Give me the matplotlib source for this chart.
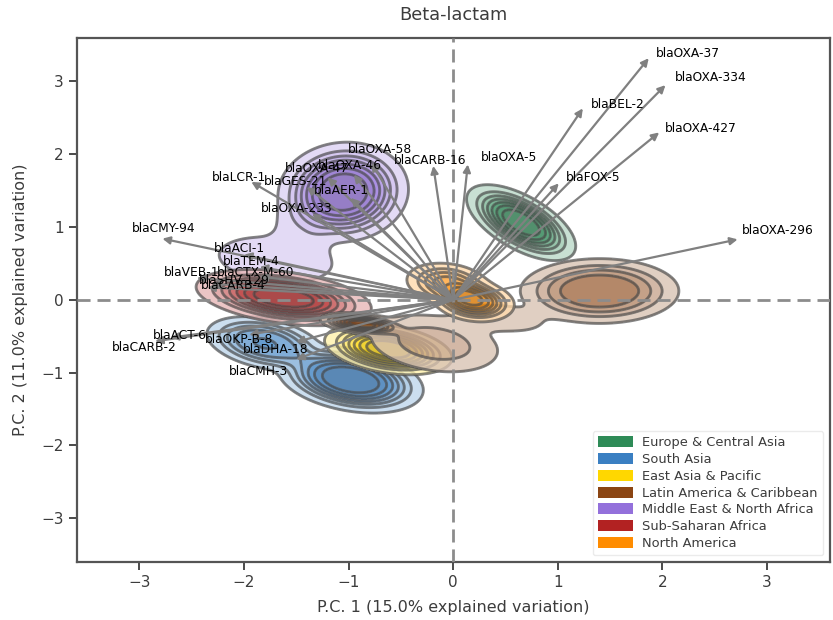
"""
Beta-lactam PCA biplot: region density contours + gene loading arrows.
"""

import numpy as np
import matplotlib
matplotlib.use("Agg")
import matplotlib.pyplot as plt
from matplotlib.colors import LinearSegmentedColormap, to_rgb
from matplotlib.patches import Patch


# ---------------------------------------------------------------------------
# Data
# ---------------------------------------------------------------------------

regions = ["Europe & Central Asia", "South Asia", "East Asia & Pacific",
           "Latin America & Caribbean", "Middle East & North Africa",
           "Sub-Saharan Africa", "North America"]
region_colors = ["#2e8b57", "#3a7fc2", "#ffd700", "#8b4513",
                 "#9370db", "#b22222", "#ff8c00"]
draw_order = [4, 1, 5, 2, 3, 0, 6]

# density bumps
comp_region = [0,
               1, 1,
               2,
               3, 3, 3, 3,
               4, 4, 4,
               5,
               6, 6]
comp_x      = [0.65,
               -0.98, -1.80,
               -0.62,
               -0.88, 1.40, -0.18, 0.45,
               -1.05, -1.70, -1.45,
               -1.62,
               0.20, -0.05]
comp_y      = [1.06,
               -1.10, -0.60,
               -0.68,
               -0.33, 0.12, -0.60, -0.25,
               1.48, 0.55, 0.95,
               0.03,
               -0.02, 0.22]
comp_sx     = [0.35,
               0.41, 0.35,
               0.33,
               0.20, 0.46, 0.42, 0.35,
               0.34, 0.45, 0.20,
               0.45,
               0.20, 0.22]
comp_sy     = [0.17,
               0.24, 0.20,
               0.17,
               0.07, 0.27, 0.25, 0.15,
               0.38, 0.25, 0.30,
               0.185,
               0.14, 0.15]
comp_angle  = [-45,
               -18, -20,
               -15,
               -10, 0, -15, -10,
               -15, -10, 0,
               -12,
               -15, -15]
comp_peak   = [1.0,
               1.0, 0.6,
               1.0,
               1.0, 0.6, 0.25, 0.10,
               1.0, 0.12, 0.10,
               1.0,
               1.0, 0.6]
comp_shape  = [1.4,
               1.6, 1.6,
               1.4,
               1.3, 1.6, 1.5, 1.5,
               1.5, 1.5, 1.5,
               1.4,
               1.3, 1.3]

genes = ["blaOXA-37", "blaOXA-334", "blaBEL-2", "blaOXA-427", "blaOXA-5",
         "blaCARB-16", "blaFOX-5", "blaOXA-296", "blaOXA-58", "blaOXA-46",
         "blaOXA-47", "blaGES-21", "blaLCR-1", "blaAER-1", "blaOXA-233",
         "blaCMY-94", "blaACI-1", "blaTEM-4", "blaVEB-1", "blaCTX-M-60",
         "blaSHV-129", "blaCARB-4", "blaACT-6", "blaCARB-2", "blaOKP-B-8",
         "blaDHA-18", "blaCMH-3"]
load_pc1 = [1.87, 2.03, 1.24, 1.97, 0.14, -0.19, 1.01, 2.72, -0.78, -0.95,
            -1.20, -1.40, -1.93, -0.98, -1.35, -2.78, -2.00, -1.85, -2.45, -1.85,
            -2.30, -2.35, -2.70, -2.85, -1.95, -1.50, -1.50]
load_pc2 = [3.32, 2.95, 2.63, 2.30, 1.86, 1.84, 1.60, 0.83, 1.88, 1.72,
            1.68, 1.55, 1.62, 1.40, 1.18, 0.84, 0.62, 0.45, 0.30, 0.32,
            0.22, 0.17, -0.52, -0.57, -0.48, -0.58, -0.82]
# label anchor (centre of text), after de-overlapping
label_x = [2.24, 2.46, 1.57, 2.37, 0.53, -0.22, 1.34, 3.10, -0.70, -0.99,
           -1.30, -1.51, -2.05, -1.07, -1.50, -2.77, -2.04, -1.93, -2.50, -1.89,
           -2.09, -2.10, -2.61, -2.95, -2.05, -1.70, -1.86]
label_y = [3.39, 3.05, 2.68, 2.36, 1.95, 1.91, 1.68, 0.95, 2.07, 1.84,
           1.80, 1.63, 1.68, 1.50, 1.26, 0.98, 0.71, 0.52, 0.37, 0.38,
           0.27, 0.19, -0.49, -0.65, -0.54, -0.69, -0.98]

TEXT = "#3c3c3c"


def region_cmap(color):
    c = np.array(to_rgb(color))
    w = np.ones(3)
    stops = [w * 0.75 + c * 0.25, w * 0.4 + c * 0.6, c, c * 0.8]
    return LinearSegmentedColormap.from_list("region", stops)


def region_density(k, X, Y):
    Z = np.zeros_like(X)
    for i, r in enumerate(comp_region):
        if r != k:
            continue
        a = np.deg2rad(comp_angle[i])
        dx, dy = X - comp_x[i], Y - comp_y[i]
        u = np.cos(a) * dx + np.sin(a) * dy
        v = -np.sin(a) * dx + np.cos(a) * dy
        q = (u / comp_sx[i]) ** 2 + (v / comp_sy[i]) ** 2
        Z += comp_peak[i] * np.exp(-0.5 * q ** comp_shape[i])
    return Z


fig = plt.figure(figsize=(8.33, 6.2), dpi=100)
ax = fig.add_axes([0.092, 0.094, 0.904, 0.845])

gx = np.linspace(-3.6, 3.6, 450)
gy = np.linspace(-3.6, 3.6, 450)
X, Y = np.meshgrid(gx, gy)
fracs = np.linspace(0.05, 1, 8)

for n, k in enumerate(draw_order):
    Z = region_density(k, X, Y)
    lv = Z.max() * fracs
    lv[-1] = Z.max() * 1.001
    ax.contourf(X, Y, Z, levels=lv, cmap=region_cmap(region_colors[k]),
                alpha=0.8, zorder=1 + n * 0.1)
    ax.contour(X, Y, Z, levels=lv[:-1], colors="#505050", linewidths=2.1,
               alpha=0.7, zorder=1.05 + n * 0.1)

ax.axhline(0, color="#8c8c8c", lw=2, dashes=(4.7, 2.5), zorder=3)
ax.axvline(0, color="#8c8c8c", lw=2, dashes=(4.7, 2.5), zorder=3)

for g, px, py, lx, ly in zip(genes, load_pc1, load_pc2, label_x, label_y):
    ax.annotate("", xy=(px, py), xytext=(0, 0),
                arrowprops=dict(arrowstyle="-|>", color="#808080", lw=1.6,
                                mutation_scale=11, shrinkA=0, shrinkB=0),
                zorder=4)
    ax.text(lx, ly, g, fontsize=8.8, color="black", ha="center", va="center", zorder=5)

ax.set_xlim(-3.6, 3.6)
ax.set_ylim(-3.6, 3.6)
ax.set_xticks([-3, -2, -1, 0, 1, 2, 3])
ax.set_yticks([-3, -2, -1, 0, 1, 2, 3])
ax.tick_params(labelsize=11, colors=TEXT, length=6, width=1.3)
for sp in ax.spines.values():
    sp.set_color("#555555")
    sp.set_linewidth(1.6)

ax.set_title("Beta-lactam", fontsize=12.8, color=TEXT, pad=13)
ax.set_xlabel("P.C. 1 (15.0% explained variation)", fontsize=11.5, color=TEXT, labelpad=7)
ax.set_ylabel("P.C. 2 (11.0% explained variation)", fontsize=11.5, color=TEXT, labelpad=9)

handles = [Patch(facecolor=c, edgecolor="none", label=r) for r, c in zip(regions, region_colors)]
leg = ax.legend(handles=handles, loc="lower right", fontsize=9.4, frameon=True,
                handlelength=2.7, handleheight=0.9, labelspacing=0.29,
                handletextpad=0.7, borderaxespad=0.5)
leg.get_frame().set_edgecolor("#e6e6e6")
for t in leg.get_texts():
    t.set_color(TEXT)
leg.set_zorder(6)

fig.savefig("out.png", dpi=100)
